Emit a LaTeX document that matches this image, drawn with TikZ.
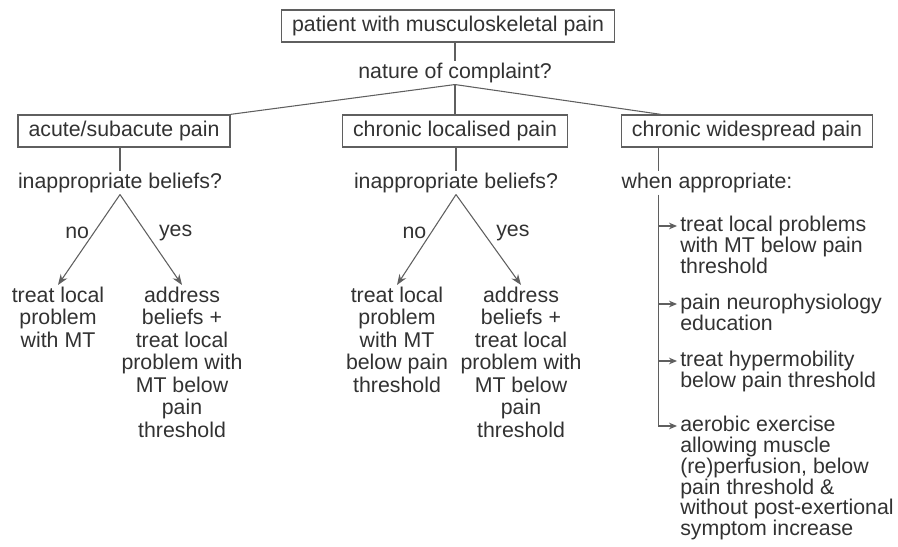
\documentclass[tikz,border=0pt]{standalone}
\usepackage{fontspec}
\setmainfont{Liberation Sans}
\usepackage{tikz}
\usetikzlibrary{arrows.meta,calc}
\definecolor{tinta}{RGB}{50,50,50}
\definecolor{trazo}{RGB}{95,95,95}

\begin{document}
\begin{tikzpicture}[x=0.75pt, y=-0.75pt,
  every node/.style={font=\fontsize{16}{16.2}\selectfont, text=tinta},
  caja/.style={draw=trazo, line width=1pt, inner xsep=8pt, minimum height=24pt},
  texto/.style={align=center, inner sep=1pt},
  rama/.style={texto, anchor=north, font=\fontsize{16}{16.9}\selectfont},
  lista/.style={align=left, inner sep=0pt, anchor=north west,
    font=\fontsize{16}{15.6}\selectfont},
  linea/.style={draw=trazo, line width=0.8pt},
  rel/.style={linea, -{Stealth[length=8pt, width=6pt]}},
  rel2/.style={linea, -{Stealth[length=6pt, width=5pt]}}
]
\useasboundingbox (0,0) rectangle (898,546);
% Cajas
\node[caja] (pac) at (448,26) {patient with musculoskeletal pain};
\node[texto] (nat) at (455,73) {nature of complaint?};
\node[caja] (agu) at (124,131) {acute/subacute pain};
\node[caja] (loc) at (455,131) {chronic localised pain};
\node[caja] (gen) at (747,131) {chronic widespread pain};
\draw[linea] (pac.south -| nat.north) -- (nat.north);
\draw[linea] (nat.south) -- (loc.north);
\draw[linea] (nat.south) -- (agu.north east);
\draw[linea] (nat.south) -- ($(gen.north west)+(40,0)$);
% Preguntas
\node[texto] (cr1) at (120,183) {inappropriate beliefs?};
\node[texto] (cr2) at (456,183) {inappropriate beliefs?};
\node[texto, anchor=west] (cuando) at (620,183) {when appropriate:};
\coordinate (eje) at ($(gen.south west)+(38,0)$);
\draw[linea] (cr1.north |- agu.south) -- (cr1.north);
\draw[linea] (cr2.north |- loc.south) -- (cr2.north);
\draw[linea] (eje) -- (eje |- cuando.north);
% Ramas
\node[rama] (no1) at (58,285) {treat local\\problem\\with MT};
\node[rama] (si1) at (182,285) {address\\beliefs +\\treat local\\problem with\\MT below\\pain\\threshold};
\node[rama] (no2) at (397,285) {treat local\\problem\\with MT\\below pain\\threshold};
\node[rama] (si2) at (521,285) {address\\beliefs +\\treat local\\problem with\\MT below\\pain\\threshold};
\draw[rel] (cr1.south) -- node[left, pos=0.42] {no} (no1.north);
\draw[rel] (cr1.south) -- node[right, pos=0.42, xshift=6pt] {yes} (si1.north);
\draw[rel] (cr2.south) -- node[left, pos=0.42] {no} (no2.north);
\draw[rel] (cr2.south) -- node[right, pos=0.42, xshift=6pt] {yes} (si2.north);
% Lista
\node[lista] (m1) at (680,216) {treat local problems\\with MT below pain\\threshold};
\node[lista] (m2) at (680,294) {pain neurophysiology\\education};
\node[lista] (m3) at (680,351) {treat hypermobility\\below pain threshold};
\node[lista] (m4) at (680,416) {aerobic exercise\\allowing muscle\\(re)perfusion, below\\pain threshold \&\\without post-exertional\\symptom increase};
\coordinate (f1) at ($(m1.north west)+(-3,10)$);
\coordinate (f2) at ($(m2.north west)+(-3,10)$);
\coordinate (f3) at ($(m3.north west)+(-3,10)$);
\coordinate (f4) at ($(m4.north west)+(-3,10)$);
\coordinate (tope) at (eje |- cuando.south);
\draw[rel2] (tope) |- (f4);
\draw[rel2] (f1 -| eje) -- (f1);
\draw[rel2] (f2 -| eje) -- (f2);
\draw[rel2] (f3 -| eje) -- (f3);
\end{tikzpicture}
\end{document}
